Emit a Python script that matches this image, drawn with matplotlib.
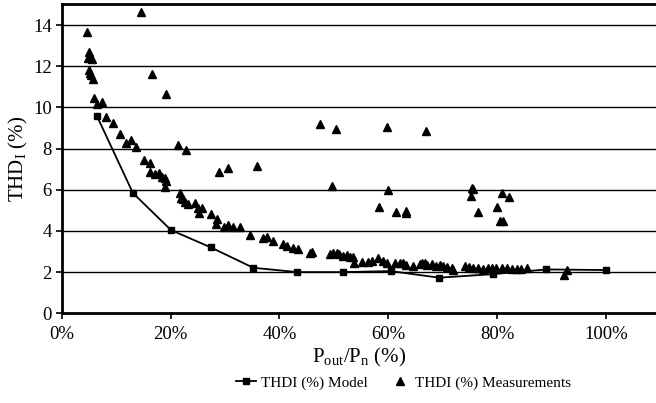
import matplotlib
matplotlib.use("Agg")
import matplotlib.pyplot as plt
from matplotlib.ticker import FuncFormatter

plt.rcParams['font.family'] = ['Liberation Serif', 'DejaVu Serif']

# Model curve (x in % of nominal power)
model_x = [6.5, 13.1, 20.1, 27.4, 35.2, 43.3, 51.7, 60.4, 69.3, 79.1, 89.0, 100.0]
model_y = [9.58, 5.84, 4.04, 3.20, 2.21, 2.00, 2.00, 2.05, 1.73, 1.90, 2.13, 2.10]

# Measurements
meas_x = [14.5, 4.68, 4.99, 4.86, 5.6, 5.1, 5.23, 5.41, 5.83, 16.6, 19.2,
          6.0, 6.46, 7.5, 8.2, 9.4, 10.7, 11.8, 12.75, 13.6, 21.4,
          15.2, 16.2, 16.2, 17.2, 17.9, 18.5, 19.0, 19.2, 19.0, 21.7, 22.3,
          22.8, 28.9, 30.6, 35.9,
          22.0, 22.7, 23.3, 24.5, 25.1, 25.7, 25.3, 27.4,
          28.6, 28.3, 29.8, 30.6, 31.5, 32.75, 34.6, 37.0, 37.8, 38.75,
          40.7, 41.3, 42.4, 43.4, 45.6,
          47.4, 50.4, 59.7, 66.8, 49.7, 59.85, 58.3, 61.3, 63.2, 63.2,
          46.0, 49.3, 49.9, 50.5, 51.0, 51.6, 52.3, 52.9, 53.5, 53.7, 55.1,
          56.3, 56.9, 58.1, 59.0, 59.8, 61.2, 62.1, 62.7, 63.3, 64.5, 65.8, 66.7,
          75.3, 75.6, 75.1, 80.9, 82.1, 76.5, 80.0, 80.5, 81.1,
          66.1, 67.0, 67.9, 68.8, 69.4, 70.0, 70.7, 71.6, 71.9, 74.0, 74.7,
          75.6, 76.5, 77.4, 78.3, 79.0, 79.8, 80.8, 81.7, 82.6, 83.5, 84.4, 85.4,
          92.7, 92.2]
meas_y = [14.64, 13.64, 12.7, 12.38, 12.35, 11.81, 11.68, 11.57, 11.37, 11.62, 10.63,
          10.44, 10.16, 10.24, 9.54, 9.25, 8.69, 8.25, 8.41, 8.09, 8.17,
          7.44, 7.31, 6.87, 6.76, 6.80, 6.63, 6.55, 6.44, 6.15, 5.85, 5.53,
          7.93, 6.87, 7.04, 7.15,
          5.58, 5.42, 5.31, 5.34, 5.10, 5.10, 4.85, 4.82,
          4.56, 4.33, 4.17, 4.29, 4.20, 4.17, 3.80, 3.67, 3.72, 3.52,
          3.36, 3.27, 3.18, 3.10, 2.91,
          9.17, 8.95, 9.03, 8.86, 6.18, 5.99, 5.17, 4.93, 4.97, 4.85,
          2.99, 2.88, 2.91, 2.91, 2.88, 2.78, 2.83, 2.74, 2.72, 2.46, 2.50,
          2.48, 2.55, 2.67, 2.55, 2.46, 2.46, 2.46, 2.43, 2.34, 2.31, 2.38, 2.43,
          6.07, 6.02, 5.71, 5.83, 5.66, 4.93, 5.17, 4.50, 4.50,
          2.43, 2.34, 2.39, 2.30, 2.34, 2.30, 2.27, 2.18, 2.10, 2.30, 2.27,
          2.18, 2.18, 2.14, 2.18, 2.18, 2.18, 2.18, 2.18, 2.14, 2.14, 2.14, 2.18,
          2.10, 1.86]

x_ticks = [0, 20, 40, 60, 80, 100]
y_ticks = [0, 2, 4, 6, 8, 10, 12, 14]

fig = plt.figure(figsize=(6.56, 4.03), dpi=100)
ax = fig.add_axes([0.0938, 0.2226, 0.9062, 0.7664])

for yv in y_ticks[1:]:
    ax.axhline(yv, color='black', lw=1.0, zorder=1)

ax.plot(model_x, model_y, color='black', lw=1.3, marker='s', markersize=5,
        label='THDI (%) Model', zorder=3)
ax.plot(meas_x, meas_y, linestyle='none', color='black', marker='^', markersize=6,
        label='THDI (%) Measurements', zorder=4)

ax.set_xlim(0, 109.1)
ax.set_ylim(0, 15)
ax.set_xticks(x_ticks)
ax.xaxis.set_major_formatter(FuncFormatter(lambda v, p: f"{int(v)}%"))
ax.set_yticks(y_ticks)
ax.tick_params(axis='both', labelsize=13.5, direction='out', length=4, width=1.2, colors='black')
ax.tick_params(axis='x', pad=5)
ax.tick_params(axis='y', pad=3)

for s in ['left', 'bottom', 'top']:
    ax.spines[s].set_linewidth(2.0)
    ax.spines[s].set_color('black')
ax.spines['right'].set_visible(False)

ax.set_xlabel(r'P$_{\mathregular{out}}$/P$_{\mathregular{n}}$ (%)', fontsize=15, labelpad=2)
ax.set_ylabel(r'THD$_{\mathregular{I}}$ (%)', fontsize=15, labelpad=2)

fig.legend(loc='center', bbox_to_anchor=(0.615, 0.05), ncol=2, frameon=False,
           fontsize=11, handlelength=1.3, columnspacing=1.5, handletextpad=0.3)

fig.savefig('out.png', dpi=100)
